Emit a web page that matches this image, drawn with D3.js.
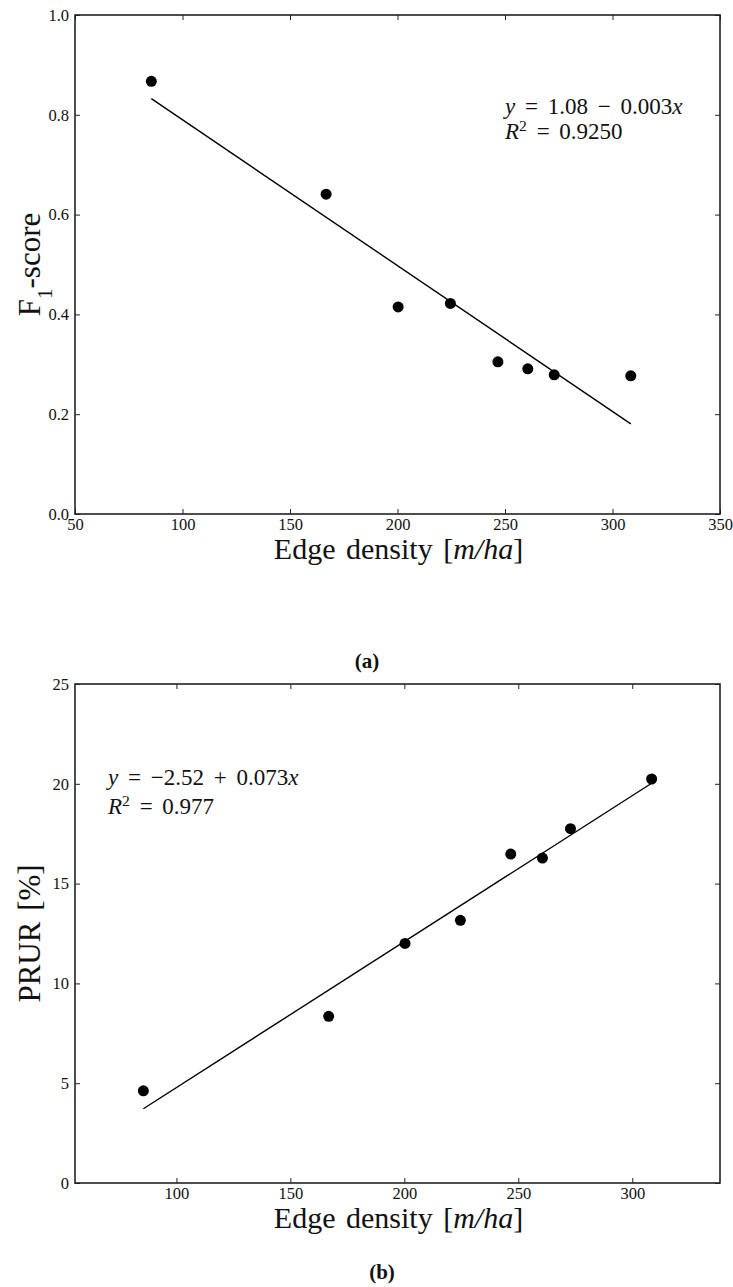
<!DOCTYPE html>
<html>
<head>
<meta charset="utf-8">
<script src="https://cdn.jsdelivr.net/npm/d3@7"></script>
<style>
  body { margin: 0; background: #fff; }
  text { font-family: "Liberation Serif", "Times New Roman", serif; fill: #111; }
</style>
</head>
<body>
<svg id="chart" width="733" height="1287"></svg>
<script>
// Edge density of each test area [m/ha]
const edgeDensity = [85.5, 166.8, 200.3, 224.6, 246.7, 260.6, 272.9, 308.5];
// F1-score per area
const f1Score = [0.867, 0.641, 0.415, 0.422, 0.305, 0.291, 0.279, 0.277];
// PRUR per area [%]
const prur = [4.62, 8.35, 12.0, 13.16, 16.48, 16.28, 17.75, 20.24];

const f1Ticks = [0.0, 0.2, 0.4, 0.6, 0.8, 1.0];
const prurTicks = [0, 5, 10, 15, 20, 25];
const xTicksA = [50, 100, 150, 200, 250, 300, 350];
const xTicksB = [100, 150, 200, 250, 300];

const svg = d3.select("#chart");

// ordinary least-squares fit
function fit(xs, ys) {
  const mx = d3.mean(xs), my = d3.mean(ys);
  let sxy = 0, sxx = 0;
  xs.forEach((x, i) => { sxy += (x - mx) * (ys[i] - my); sxx += (x - mx) ** 2; });
  const b = sxy / sxx;
  return { a: my - b * mx, b };
}

// writes a mixed roman / italic line such as "y = 1.08 − 0.003x"
function mathLine(g, x, y, parts, size) {
  const t = g.append("text").attr("x", x).attr("y", y)
    .attr("font-size", size).attr("word-spacing", 4);
  parts.forEach(p => {
    const s = t.append("tspan").text(p.t);
    if (p.i) s.attr("font-style", "italic");
    if (p.sup) s.attr("baseline-shift", "super").attr("font-size", size * 0.68);
  });
}

function panel(opt) {
  const left = 75, right = 720;
  const x = d3.scaleLinear().domain(opt.xDomain).range([left, right]);
  const y = d3.scaleLinear().domain(opt.yDomain).range([opt.bottom, opt.top]);
  const g = svg.append("g");

  const tickStyle = sel => {
    sel.select(".domain").remove();
    sel.selectAll(".tick line").attr("stroke", "#222").attr("stroke-width", 1);
    sel.selectAll(".tick text").attr("font-family", "Liberation Serif").attr("font-size", 16.5).attr("fill", "#222");
  };

  g.append("g").attr("transform", `translate(0,${opt.bottom})`)
    .call(d3.axisBottom(x).tickValues(opt.xTicks).tickFormat(d3.format("d")).tickSizeInner(-5).tickSizeOuter(0).tickPadding(4))
    .call(tickStyle);
  g.append("g").attr("transform", `translate(0,${opt.top})`)
    .call(d3.axisTop(x).tickValues(opt.xTicks).tickFormat("").tickSizeInner(-5).tickSizeOuter(0))
    .call(tickStyle);
  g.append("g").attr("transform", `translate(${left},0)`)
    .call(d3.axisLeft(y).tickValues(opt.yTicks).tickFormat(opt.yFormat).tickSizeInner(-5).tickSizeOuter(0).tickPadding(6))
    .call(tickStyle);
  g.append("g").attr("transform", `translate(${right},0)`)
    .call(d3.axisRight(y).tickValues(opt.yTicks).tickFormat("").tickSizeInner(-5).tickSizeOuter(0))
    .call(tickStyle);

  // frame
  g.append("rect")
    .attr("x", left).attr("y", opt.top)
    .attr("width", right - left).attr("height", opt.bottom - opt.top)
    .attr("fill", "none").attr("stroke", "#222").attr("stroke-width", 1.6);

  // regression line over the observed range
  const f = fit(edgeDensity, opt.values);
  const [x0, x1] = d3.extent(edgeDensity);
  g.append("line")
    .attr("x1", x(x0)).attr("y1", y(f.a + f.b * x0))
    .attr("x2", x(x1)).attr("y2", y(f.a + f.b * x1))
    .attr("stroke", "#000").attr("stroke-width", 1.4);

  // observations
  g.selectAll("circle.pt").data(edgeDensity).join("circle")
    .attr("class", "pt")
    .attr("cx", d => x(d))
    .attr("cy", (d, i) => y(opt.values[i]))
    .attr("r", 5.5)
    .attr("fill", "#000");

  // equation
  mathLine(g, opt.eqX, opt.eqY1, opt.eq1, 23);
  mathLine(g, opt.eqX, opt.eqY2, opt.eq2, 23);

  // x-axis label
  const xl = g.append("text")
    .attr("x", (left + right) / 2 + 1).attr("y", opt.bottom + 45)
    .attr("text-anchor", "middle").attr("font-size", 30).attr("word-spacing", 3);
  xl.append("tspan").text("Edge density [");
  xl.append("tspan").attr("font-style", "italic").text("m/ha");
  xl.append("tspan").text("]");

  // y-axis label
  const yl = g.append("text")
    .attr("transform", `translate(40,${(opt.top + opt.bottom) / 2}) rotate(-90)`)
    .attr("text-anchor", "middle").attr("font-size", 31).attr("word-spacing", 3);
  opt.yLabel.forEach(p => {
    const s = yl.append("tspan").text(p.t);
    if (p.sub) s.attr("baseline-shift", "sub").attr("font-size", 21);
  });

  // sub-figure caption
  g.append("text")
    .attr("x", opt.capX).attr("y", opt.capY)
    .attr("text-anchor", "middle").attr("font-size", 21).attr("font-weight", "bold")
    .text(opt.caption);
}

panel({
  top: 15, bottom: 514,
  xDomain: [50, 350], yDomain: [0, 1],
  xTicks: xTicksA, yTicks: f1Ticks, yFormat: d3.format(".1f"),
  values: f1Score,
  yLabel: [{ t: "F" }, { t: "1", sub: true }, { t: "-score" }],
  eqX: 505, eqY1: 114, eqY2: 139,
  eq1: [{ t: "y", i: true }, { t: " = 1.08 − 0.003" }, { t: "x", i: true }],
  eq2: [{ t: "R", i: true }, { t: "2", sup: true }, { t: " = 0.9250" }],
  caption: "(a)", capX: 367, capY: 668
});

panel({
  top: 684, bottom: 1183,
  xDomain: [55.5, 338.5], yDomain: [0, 25],
  xTicks: xTicksB, yTicks: prurTicks, yFormat: d3.format("d"),
  values: prur,
  yLabel: [{ t: "PRUR [%]" }],
  eqX: 108, eqY1: 785, eqY2: 814,
  eq1: [{ t: "y", i: true }, { t: " = −2.52 + 0.073" }, { t: "x", i: true }],
  eq2: [{ t: "R", i: true }, { t: "2", sup: true }, { t: " = 0.977" }],
  caption: "(b)", capX: 382, capY: 1279
});
</script>
</body>
</html>
